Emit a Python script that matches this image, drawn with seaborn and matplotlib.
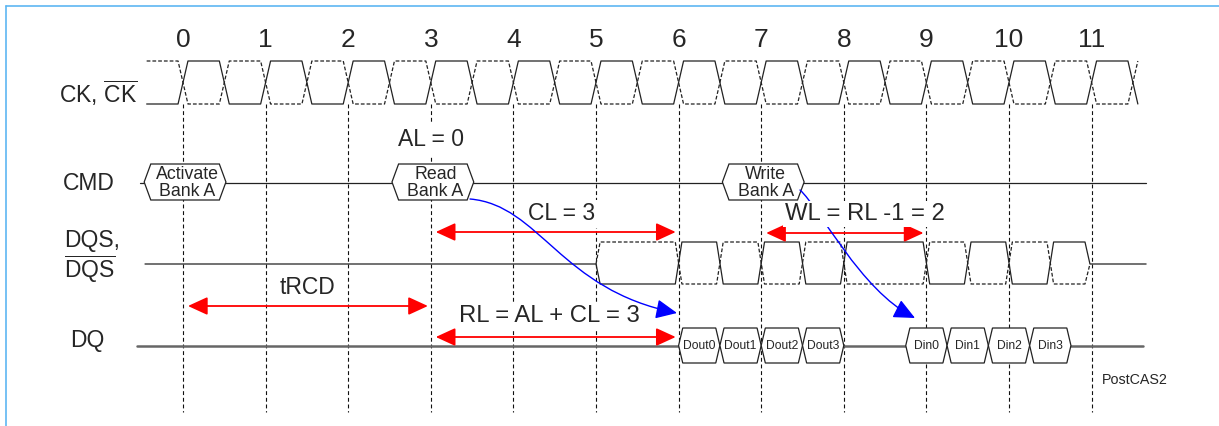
import matplotlib
matplotlib.use("Agg")
import numpy as np
import pandas as pd
import matplotlib.pyplot as plt
import seaborn as sns
from matplotlib.patches import Polygon, FancyArrowPatch
from matplotlib.path import Path
from matplotlib.lines import Line2D

# ------------------------------
# data (time in clock cycles)
# ------------------------------
cycle_ticks = [0, 1, 2, 3, 4, 5, 6, 7, 8, 9, 10, 11]
cycle_labels = ["0", "1", "2", "3", "4", "5", "6", "7", "8", "9", "10", "11"]

ck_edges = [0, 0.5, 1, 1.5, 2, 2.5, 3, 3.5, 4, 4.5, 5, 5.5,
            6, 6.5, 7, 7.5, 8, 8.5, 9, 9.5, 10, 10.5, 11, 11.5]
ck_start, ck_end = -0.44, 11.56

dqs_start, dqs_end = -0.46, 11.66
dqs_preamble = 5.0
dqs_edges = [6, 6.5, 7, 7.5, 8, 9, 9.5, 10, 10.5]
dqs_postamble = 10.98

cmd_names = ["Activate\nBank A", "Read\nBank A", "Write\nBank A"]
cmd_cycles = [0, 3, 7]

dq_names = ["Dout0", "Dout1", "Dout2", "Dout3", "Din0", "Din1", "Din2", "Din3"]
dq_starts = [6.0, 6.5, 7.0, 7.5, 8.75, 9.25, 9.75, 10.25]
dq_ends = [6.5, 7.0, 7.5, 8.0, 9.25, 9.75, 10.25, 10.75]

span_labels = ["tRCD", "CL = 3", "RL = AL + CL = 3", "WL = RL -1 = 2"]
span_from = [0, 3, 3, 7]
span_to = [3, 6, 6, 9]

# ------------------------------
# layout (pixel rows, y grows downward)
# ------------------------------
W, H = 1219, 426
X0, PERIOD = 183, 82.6


def cx(px):
    return (px - X0) / PERIOD


CK_HI, CK_LO = 61, 104
CMD_Y = 183
DQS_HI, DQS_MID, DQS_LO = 242, 264, 284
DQ_Y = 346
VLINE_TOP, VLINE_BOT = 104, 412

span_y = [306, 232, 337, 233]
span_text_xy = [(308, 287), (562, 214), (549, 316), (865, 214)]
span_fs = [16.5, 16.5, 17.2, 17.2]

sns.set_theme(style="white")
plt.rcParams['font.family'] = ['Liberation Sans', 'DejaVu Sans']
plt.rcParams['mathtext.fontset'] = 'custom'
plt.rcParams['mathtext.rm'] = 'Liberation Sans'

fig = plt.figure(figsize=(W / 100, H / 100), dpi=100)
ax = fig.add_axes([0, 0, 1, 1])
ax.set_xlim(cx(0), cx(W))
ax.set_ylim(H, 0)
ax.set_axis_off()


def toggle_wave(edges, hw, lo, hi, start_high):
    xs, ys = [], []
    level = start_high
    for e in edges:
        xs += [e - hw, e + hw]
        ys += [hi if level else lo, lo if level else hi]
        level = not level
    return xs, ys, level


# ---- clock ----
for start_high, ls in [(False, "-"), (True, (0, (3, 1.6)))]:
    xs, ys, _ = toggle_wave(ck_edges, 0.06, CK_LO, CK_HI, start_high)
    xs = [ck_start] + xs
    ys = [CK_HI if start_high else CK_LO] + ys
    sns.lineplot(x=xs, y=ys, sort=False, estimator=None, ax=ax,
                 color="#222222", lw=0.9, linestyle=ls, zorder=3)

# ---- DQS ----
hw = 0.04
for first, ls in [(DQS_LO, "-"), (DQS_HI, (0, (3, 1.6)))]:
    xs, ys, level = toggle_wave(dqs_edges, hw, DQS_LO, DQS_HI, first == DQS_HI)
    last = DQS_HI if level else DQS_LO
    xs = [dqs_preamble, dqs_preamble + 0.05] + xs + [dqs_postamble - 0.06, dqs_postamble]
    ys = [DQS_MID, first] + ys + [last, DQS_MID]
    if ls == "-":
        xs = [dqs_start] + xs + [dqs_end]
        ys = [DQS_MID] + ys + [DQS_MID]
    sns.lineplot(x=xs, y=ys, sort=False, estimator=None, ax=ax,
                 color="#222222", lw=0.9, linestyle=ls, zorder=3)

# ---- CMD / DQ bus lines ----
ax.plot([cx(140), cx(1146)], [CMD_Y, CMD_Y], color="#222222", lw=0.9, zorder=3)
ax.plot([cx(137), cx(1143)], [DQ_Y, DQ_Y], color="#666666", lw=1.8, zorder=3)

# ---- vertical clock reference lines ----
ax.vlines(cycle_ticks, VLINE_TOP, VLINE_BOT, colors="#111111", lw=0.8,
          linestyles=[(0, (3.5, 2.5))], zorder=2)


def hexagon(x0, x1, yc, h, tip, **kw):
    pts = [(x0, yc), (x0 + tip, yc - h / 2), (x1 - tip, yc - h / 2),
           (x1, yc), (x1 - tip, yc + h / 2), (x0 + tip, yc + h / 2)]
    return Polygon(pts, closed=True, **kw)


for name, c in zip(cmd_names, cmd_cycles):
    x0, x1 = c - 0.47, c + 0.52
    ax.add_patch(hexagon(x0, x1, 182, 36, 0.08, facecolor="white",
                         edgecolor="#222222", lw=0.9, zorder=4))
    ax.text((x0 + x1) / 2 + 0.03, 183, name, ha="center", va="center",
            fontsize=12.8, linespacing=0.95, zorder=5)

for name, s, e in zip(dq_names, dq_starts, dq_ends):
    ax.add_patch(hexagon(s, e, 345.5, 35, 0.05, facecolor="white",
                         edgecolor="#222222", lw=0.9, zorder=4))
    ax.text((s + e) / 2, 346, name, ha="center", va="center",
            fontsize=8.7, zorder=5)

# ---- timing spans (red) ----
for lab, a, b, y, (tx, ty), fs in zip(span_labels, span_from, span_to, span_y,
                                       span_text_xy, span_fs):
    arr = FancyArrowPatch((a + 0.06, y), (b - 0.035, y),
                          arrowstyle="<|-|>,head_length=12,head_width=5.5",
                          mutation_scale=1, color="#ff0000", lw=1.3,
                          shrinkA=0, shrinkB=0, zorder=6)
    ax.add_patch(arr)
    ax.text(cx(tx), ty, lab, ha="center", va="center", fontsize=fs,
            bbox=dict(facecolor="white", edgecolor="none", pad=1.5), zorder=7)

ax.text(cx(431), 140, "AL = 0", ha="center", va="center", fontsize=16.5,
        bbox=dict(facecolor="white", edgecolor="none", pad=4), zorder=7)

# ---- command to data links (blue) ----
# read link runs over the labels, the write link passes behind "WL = ..."
links = [
    [(cx(470), 199), (cx(540), 205), (cx(560), 290), (cx(677), 313)],
    [(cx(800), 190), (cx(820), 208), (cx(860), 290), (cx(915), 318)],
]
link_z = [8, 6]
for verts, z in zip(links, link_z):
    p = Path(verts, [Path.MOVETO, Path.CURVE4, Path.CURVE4, Path.CURVE4])
    ax.add_patch(FancyArrowPatch(path=p, arrowstyle="-|>,head_length=13,head_width=6",
                                 mutation_scale=1, color="#0000ff", lw=1.0,
                                 shrinkA=0, shrinkB=0, zorder=z))

# ---- row labels ----
ax.text(cx(137), 93, r"CK, $\overline{\mathrm{CK}}$", ha="right", va="center", fontsize=16.5)
ax.text(cx(89), 183, "CMD", ha="center", va="center", fontsize=16.5)
ax.text(cx(64), 241, "DQS,", ha="left", va="center", fontsize=16.5)
ax.text(cx(64), 269, r"$\overline{\mathrm{DQS}}$", ha="left", va="center", fontsize=16.5)
ax.text(cx(87), 340, "DQ", ha="center", va="center", fontsize=16.5)

for c, lab in zip(cycle_ticks, cycle_labels):
    ax.text(c, 40, lab, ha="center", va="center", fontsize=19)

ax.text(cx(1135), 380, "PostCAS2", ha="center", va="center", fontsize=10.3)

# ---- light blue frame (left and top) ----
fig.add_artist(Line2D([6 / W, 6 / W], [0, 1 - 6 / H], color="#5db6f2", lw=1.2))
fig.add_artist(Line2D([6 / W, 1], [1 - 6 / H, 1 - 6 / H], color="#5db6f2", lw=1.2))

fig.savefig("out.png", dpi=100)
